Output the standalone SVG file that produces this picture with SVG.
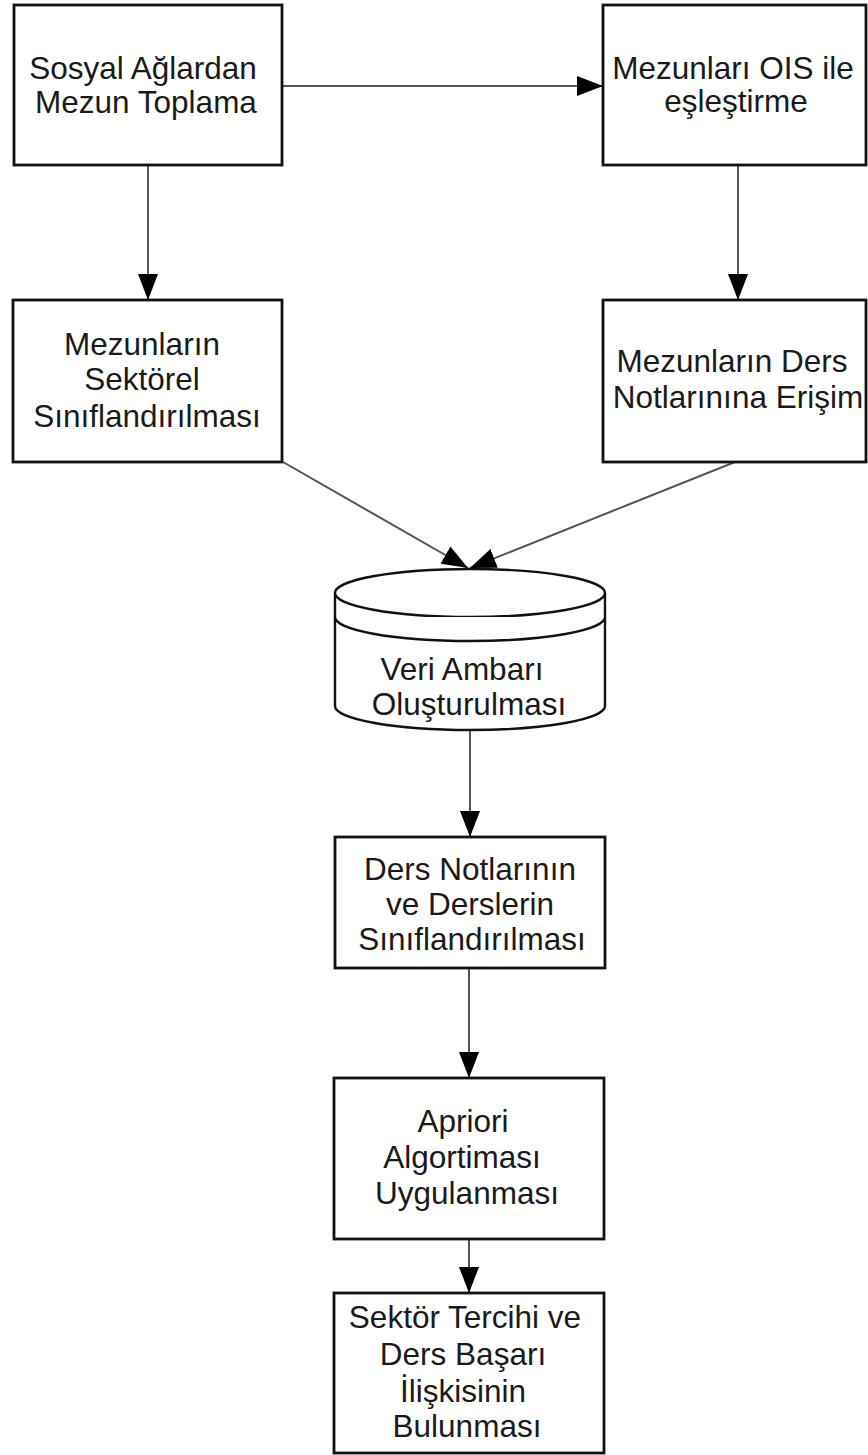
<svg xmlns="http://www.w3.org/2000/svg" width="868" height="1455" viewBox="0 0 868 1455">
<style>
.box{fill:#fff;stroke:#111;stroke-width:2.8}
.cyl{fill:#fff;stroke:#111;stroke-width:2.4}
.t{font-family:"Liberation Sans",Arial,sans-serif;font-size:31.5px;fill:#1a1a1a;text-anchor:middle}
.c{fill:none;stroke:#555;stroke-width:2;marker-end:url(#ah)}
</style>
<defs>
<marker id="ah" markerUnits="userSpaceOnUse" markerWidth="26" markerHeight="20" refX="26" refY="10" orient="auto" viewBox="0 0 26 20">
<path d="M0,0 L26,10 L0,20 z" fill="#000"/>
</marker>
</defs>
<g id="connectors">
<path class="c" d="M282,86 H603"/>
<path class="c" d="M148,165 V300"/>
<path class="c" d="M738,165 V300"/>
<path class="c" d="M283,462 L468,568"/>
<path class="c" d="M735,462 L470,568"/>
<path class="c" d="M470,730 V837"/>
<path class="c" d="M469,968 V1078"/>
<path class="c" d="M469,1239 V1293"/>
</g>
<g id="n1">
<rect class="box" x="14" y="5" width="268" height="160"/>
<text class="t" x="143" y="79">Sosyal Ağlardan</text>
<text class="t" x="146" y="113">Mezun Toplama</text>
</g>
<g id="n2">
<rect class="box" x="603" y="5" width="263" height="160"/>
<text class="t" x="733" y="79">Mezunları OIS ile</text>
<text class="t" x="736" y="112">eşleştirme</text>
</g>
<g id="n3">
<rect class="box" x="13" y="300" width="269" height="162"/>
<text class="t" x="142" y="355">Mezunların</text>
<text class="t" x="142" y="390">Sektörel</text>
<text class="t" x="147" y="427">Sınıflandırılması</text>
</g>
<g id="n4">
<rect class="box" x="603" y="300" width="263" height="162"/>
<text class="t" x="732" y="372">Mezunların Ders</text>
<text class="t" x="738" y="408">Notlarınına Erişim</text>
</g>
<g id="n5">
<path class="cyl" d="M335,593 A135,24 0 0 1 605,593 V706 A135,24 0 0 1 335,706 Z"/>
<path class="cyl" d="M335,593 A135,24 0 0 0 605,593"/>
<path class="cyl" d="M335,617 A135,24 0 0 0 605,617"/>
<text class="t" x="462" y="680">Veri Ambarı</text>
<text class="t" x="469" y="715">Oluşturulması</text>
</g>
<g id="n6">
<rect class="box" x="335" y="837" width="270" height="131"/>
<text class="t" x="470" y="880">Ders Notlarının</text>
<text class="t" x="470" y="915">ve Derslerin</text>
<text class="t" x="472" y="950">Sınıflandırılması</text>
</g>
<g id="n7">
<rect class="box" x="334" y="1078" width="270" height="161"/>
<text class="t" x="463" y="1132">Apriori</text>
<text class="t" x="462" y="1168">Algortiması</text>
<text class="t" x="467" y="1204">Uygulanması</text>
</g>
<g id="n8">
<rect class="box" x="334" y="1293" width="270" height="160"/>
<text class="t" x="465" y="1328">Sektör Tercihi ve</text>
<text class="t" x="463" y="1365">Ders Başarı</text>
<text class="t" x="463" y="1402">İlişkisinin</text>
<text class="t" x="467" y="1437">Bulunması</text>
</g>
</svg>
